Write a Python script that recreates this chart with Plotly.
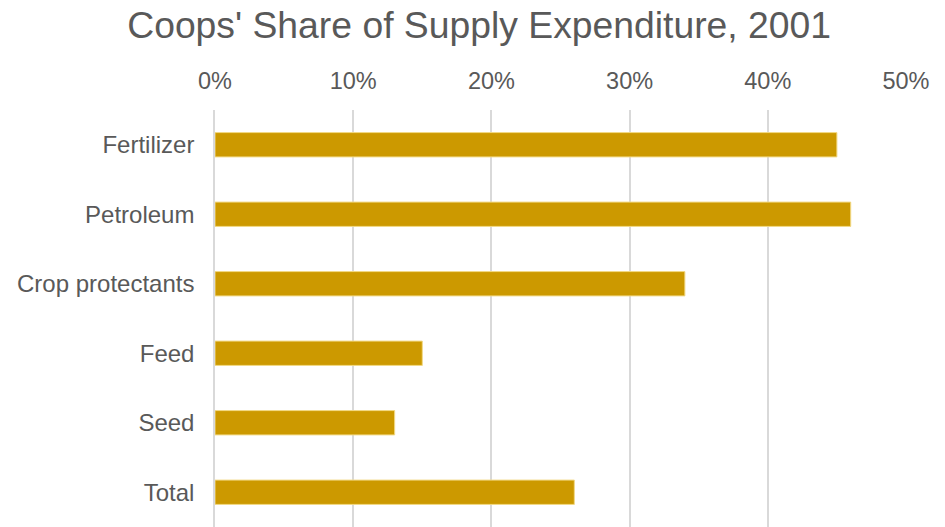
import plotly.graph_objects as go

categories = ["Fertilizer", "Petroleum", "Crop protectants", "Feed", "Seed", "Total"]
shares = [0.45, 0.46, 0.34, 0.15, 0.13, 0.26]
tick_vals = [0, 0.1, 0.2, 0.3, 0.4, 0.5]
tick_text = ["0%", "10%", "20%", "30%", "40%", "50%"]

fig = go.Figure(go.Bar(
    x=shares, y=categories, orientation="h",
    marker=dict(color="#CC9900", line=dict(color="#F2D985", width=1)),
    width=0.35,
))

fig.update_layout(
    width=945, height=527,
    paper_bgcolor="white", plot_bgcolor="white",
    margin=dict(l=215, r=39, t=110, b=0),
    title=dict(text="Coops' Share of Supply Expenditure, 2001", x=0.507, xanchor="center",
               y=0.953, yanchor="middle",
               font=dict(family="Liberation Sans, Arial", size=37.3, color="#595959")),
    font=dict(family="Liberation Sans, Arial", size=24, color="#595959"),
    showlegend=False,
)
fig.update_xaxes(
    side="top", range=[0, 0.5], tickvals=tick_vals, ticktext=tick_text,
    showgrid=True, gridcolor="#D9D9D9", gridwidth=1.5, zeroline=False,
    showline=False, ticks="", ticklabelstandoff=15,
    tickfont=dict(size=23.5, color="#595959"),
)
fig.update_yaxes(
    autorange="reversed", showgrid=False, showline=True, linecolor="#D9D9D9", linewidth=1.5,
    ticks="", ticklabelstandoff=14,
    tickfont=dict(size=24, color="#595959"),
)

fig.write_html("out.html")
